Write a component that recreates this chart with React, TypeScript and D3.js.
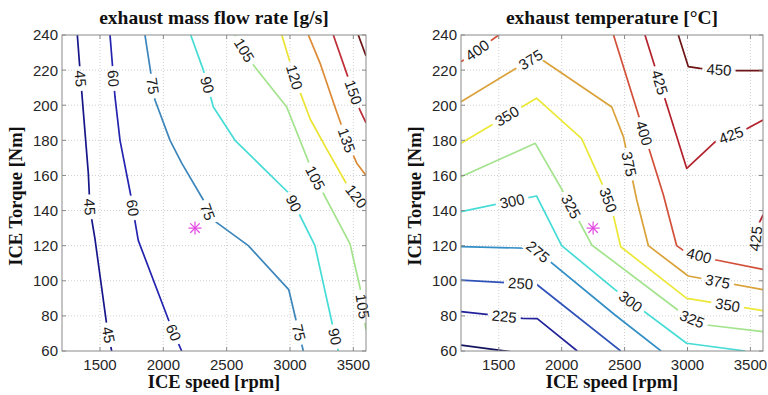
import React from 'react';
import * as d3 from 'd3';

type Pt = [number, number];
type Lbl = [number, number, number];

// axes
const speedDomain = [1200, 3600];
const torqueDomain = [60, 240];
const speedTicks = [1500, 2000, 2500, 3000, 3500];
const torqueTicks = [60, 80, 100, 120, 140, 160, 180, 200, 220, 240];

// operating point marker
const opPoint: Pt = [2250, 130];

// exhaust mass flow rate contours [speed rpm, torque Nm]
const flowLevels = [45, 60, 75, 90, 105, 120, 135, 150, 165];
const flowColors = ['#16168a', '#2323b0', '#3c86bb', '#45dcd6', '#a4e38e', '#ebe332', '#dc8a34', '#be2e38', '#6e1414'];
const flow45: Pt[] = [[1321, 240], [1342, 220], [1408, 161], [1421, 141], [1460, 124], [1553, 75], [1592, 60]];
const flow60: Pt[] = [[1579, 240], [1618, 205], [1658, 180], [1750, 146], [1776, 134], [1802, 123], [2066, 73], [2145, 60]];
const flow75: Pt[] = [[1855, 240], [1934, 203], [2053, 180], [2145, 167], [2316, 146], [2368, 136], [2671, 120], [2990, 95], [3105, 60]];
const flow90: Pt[] = [[2216, 240], [2316, 220], [2395, 199], [2566, 180], [2990, 150], [3197, 120], [3381, 60]];
const flow105: Pt[] = [[2566, 240], [2710, 223], [2974, 199], [3079, 180], [3190, 160], [3276, 148], [3474, 121], [3553, 96], [3600, 72]];
const flow120: Pt[] = [[2935, 240], [3040, 215], [3160, 192], [3290, 175], [3440, 156], [3600, 141]];
const flow135: Pt[] = [[3145, 240], [3237, 224], [3355, 199], [3448, 180], [3527, 167], [3600, 160]];
const flow150: Pt[] = [[3342, 240], [3448, 218], [3553, 197], [3600, 190]];
const flow165: Pt[] = [[3539, 240], [3600, 228]];
const flowLines = [flow45, flow60, flow75, flow90, flow105, flow120, flow135, flow150, flow165];
const flowLabels: Lbl[] = [
  [45, 1316, 215], [45, 1395, 142], [45, 1553, 69],
  [60, 1566, 215], [60, 1711, 141], [60, 2066, 70],
  [75, 1921, 211], [75, 2342, 139], [75, 3040, 70],
  [90, 2316, 211], [90, 3026, 144], [90, 3342, 68],
  [105, 2631, 231], [105, 3184, 158], [105, 3539, 85],
  [120, 3039, 216], [120, 3487, 146],
  [135, 3448, 180],
  [150, 3487, 207],
];

// exhaust temperature contours
const tempLevels = [200, 225, 250, 275, 300, 325, 350, 375, 400, 400, 425, 425, 450];
const tempColors = ['#14145e', '#22229a', '#2f52b8', '#338fc6', '#45dcd6', '#a4e38e', '#ebe838', '#daa23a', '#d2503a', '#d2503a', '#b3222c', '#b3222c', '#6e1414'];
const temp200: Pt[] = [[1200, 63.4], [1650, 59]];
const temp225: Pt[] = [[1200, 82.4], [1690, 78.6], [1806, 78.4], [2124, 60]];
const temp250: Pt[] = [[1200, 100.4], [1800, 98], [2469, 60]];
const temp275: Pt[] = [[1200, 119.4], [1780, 118.5], [2424, 80.5], [2790, 60]];
const temp300: Pt[] = [[1200, 139.4], [1800, 148.3], [2000, 120], [2424, 95], [2993, 64.4], [3460, 60]];
const temp325: Pt[] = [[1200, 159.3], [1790, 178.3], [2026, 149], [2239, 120.4], [2994, 79.5], [3153, 74.8], [3600, 71]];
const temp350: Pt[] = [[1200, 178.3], [1800, 204], [2159, 181], [2331, 153.6], [2402, 140], [2469, 119.4], [2994, 90], [3600, 83]];
const temp375: Pt[] = [[1200, 202], [1800, 228], [2398, 199], [2491, 182], [2597, 146], [2689, 120], [3006, 102.7], [3600, 95]];
const temp400a: Pt[] = [[1200, 224.8], [1500, 240]];
const temp400b: Pt[] = [[2412, 240], [2808, 149], [2914, 120], [2980, 116.6], [3218, 112], [3600, 106.5]];
const temp425a: Pt[] = [[2662, 240], [2994, 164], [3232, 180], [3457, 186], [3600, 191.6]];
const temp425b: Pt[] = [[3600, 137.5], [3550, 130], [3530, 117]];
const temp450: Pt[] = [[2927, 240], [3006, 222], [3099, 221], [3391, 219.7], [3600, 219.7]];
const tempLines = [temp200, temp225, temp250, temp275, temp300, temp325, temp350, temp375, temp400a, temp400b, temp425a, temp425b, temp450];
// temp labels reference a line index
const tempLabels: Lbl[] = [
  [1, 1542, 78.6],
  [2, 1674, 99],
  [3, 1805, 116],
  [4, 1613, 143], [4, 2535, 87],
  [5, 2040, 141], [5, 3030, 77],
  [6, 1576, 192.6], [6, 2336, 145], [6, 3316, 85],
  [7, 1762, 225], [7, 2509, 166], [7, 3237, 98.6],
  [8, 1337, 230.5],
  [9, 2649, 184], [9, 3086, 112.8],
  [10, 2755, 212.5], [10, 3351, 182],
  [11, 3540, 124],
  [12, 3250, 220],
];
// flow labels reference a level value
const flowLabelIdx: Lbl[] = flowLabels.map(([lv, s, t]) => [flowLevels.indexOf(lv), s, t]);

const Y0 = 35;
const Y1 = 351;
const serif = "'Liberation Serif', 'Times New Roman', serif";
const sans = "'Liberation Sans', Arial, sans-serif";

// snap a label onto the nearest segment and take its angle
function placeLabel(pts: Pt[], p: Pt) {
  let best = { d: Infinity, x: 0, y: 0, a: 0 };
  for (let i = 0; i < pts.length - 1; i++) {
    const [ax, ay] = pts[i];
    const [bx, by] = pts[i + 1];
    const dx = bx - ax, dy = by - ay;
    const len2 = dx * dx + dy * dy || 1;
    let t = ((p[0] - ax) * dx + (p[1] - ay) * dy) / len2;
    t = Math.max(0, Math.min(1, t));
    const qx = ax + t * dx, qy = ay + t * dy;
    const d = (qx - p[0]) ** 2 + (qy - p[1]) ** 2;
    if (d < best.d) {
      let a = (Math.atan2(dy, dx) * 180) / Math.PI;
      if (a > 90) a -= 180;
      if (a <= -90) a += 180;
      best = { d, x: qx, y: qy, a };
    }
  }
  return best;
}

function Panel({ id, x0, x1, title, levels, colors, lines, labels }: {
  id: string; x0: number; x1: number; title: string;
  levels: number[]; colors: string[]; lines: Pt[][]; labels: Lbl[];
}) {
  const x = d3.scaleLinear().domain(speedDomain).range([x0, x1]);
  const y = d3.scaleLinear().domain(torqueDomain).range([Y1, Y0]);
  const line = d3.line<Pt>().x(d => x(d[0])).y(d => y(d[1]));
  const cx = (x0 + x1) / 2;

  const placed = labels.map(([idx, s, t]) => {
    const px = lines[idx].map(q => [x(q[0]), y(q[1])] as Pt);
    const pos = placeLabel(px, [x(s), y(t)]);
    const text = String(levels[idx]);
    return { ...pos, text, w: text.length * 8.4 + 8 };
  });

  const ox = x(opPoint[0]);
  const oy = y(opPoint[1]);
  const r = 6.5;

  return (
    <g>
      <defs>
        <clipPath id={`clip-${id}`}>
          <rect x={x0} y={Y0} width={x1 - x0} height={Y1 - Y0} />
        </clipPath>
        <mask id={`mask-${id}`} maskUnits="userSpaceOnUse" x={0} y={0} width={768} height={395}>
          <rect x={0} y={0} width={768} height={395} fill="white" />
          {placed.map((p, i) => (
            <rect key={i} x={-p.w / 2} y={-7} width={p.w} height={14} fill="black"
              transform={`translate(${p.x},${p.y}) rotate(${p.a})`} />
          ))}
        </mask>
      </defs>
      <rect x={x0} y={Y0} width={x1 - x0} height={Y1 - Y0} fill="white" />
      {/* grid */}
      {speedTicks.map(t => (
        <line key={`gx${t}`} x1={x(t)} x2={x(t)} y1={Y0} y2={Y1} stroke="#c4c4c4" strokeWidth={0.8} strokeDasharray="1,2" />
      ))}
      {torqueTicks.slice(1, -1).map(t => (
        <line key={`gy${t}`} x1={x0} x2={x1} y1={y(t)} y2={y(t)} stroke="#c4c4c4" strokeWidth={0.8} strokeDasharray="1,2" />
      ))}
      {/* contours */}
      <g clipPath={`url(#clip-${id})`}>
        <g mask={`url(#mask-${id})`}>
          {lines.map((pts, i) => (
            <path key={i} d={line(pts) || ''} fill="none" stroke={colors[i]} strokeWidth={1.7} strokeLinejoin="round" />
          ))}
        </g>
      </g>
      {placed.map((p, i) => (
        <text key={i} transform={`translate(${p.x},${p.y}) rotate(${p.a})`} textAnchor="middle" dy="0.36em"
          fontFamily={sans} fontSize={15} fill="#1a1a1a">{p.text}</text>
      ))}
      {/* operating point */}
      <g stroke="#e246e2" strokeWidth={1.2}>
        <line x1={ox - r} x2={ox + r} y1={oy} y2={oy} />
        <line x1={ox} x2={ox} y1={oy - r} y2={oy + r} />
        <line x1={ox - r * 0.72} x2={ox + r * 0.72} y1={oy - r * 0.72} y2={oy + r * 0.72} />
        <line x1={ox - r * 0.72} x2={ox + r * 0.72} y1={oy + r * 0.72} y2={oy - r * 0.72} />
      </g>
      {/* box and ticks */}
      <rect x={x0} y={Y0} width={x1 - x0} height={Y1 - Y0} fill="none" stroke="#8a8a8a" strokeWidth={1} />
      {speedTicks.map(t => (
        <g key={`tx${t}`}>
          <line x1={x(t)} x2={x(t)} y1={Y1} y2={Y1 - 4} stroke="#8a8a8a" />
          <line x1={x(t)} x2={x(t)} y1={Y0} y2={Y0 + 4} stroke="#8a8a8a" />
          <text x={x(t)} y={Y1 + 19} textAnchor="middle" fontFamily={sans} fontSize={15} fill="#262626">{t}</text>
        </g>
      ))}
      {torqueTicks.map(t => (
        <g key={`ty${t}`}>
          <line x1={x0} x2={x0 + 4} y1={y(t)} y2={y(t)} stroke="#8a8a8a" />
          <line x1={x1} x2={x1 - 4} y1={y(t)} y2={y(t)} stroke="#8a8a8a" />
          <text x={x0 - 4} y={y(t)} dy="0.36em" textAnchor="end" fontFamily={sans} fontSize={15} fill="#262626">{t}</text>
        </g>
      ))}
      <text x={cx} y={24} textAnchor="middle" fontFamily={serif} fontWeight="bold" fontSize={19.5} fill="#111">{title}</text>
      <text x={cx} y={388} textAnchor="middle" fontFamily={serif} fontWeight="bold" fontSize={18.5} fill="#111">ICE speed [rpm]</text>
      <text transform={`translate(${x0 - 40},${(Y0 + Y1) / 2 + 3}) rotate(-90)`} textAnchor="middle" fontFamily={serif} fontWeight="bold" fontSize={18.5} fill="#111">ICE Torque [Nm]</text>
    </g>
  );
}

export default function App() {
  return (
    <svg width={768} height={395} style={{ position: 'absolute', left: 0, top: 0, background: 'white' }}>
      <rect width={768} height={395} fill="white" />
      <Panel id="flow" x0={62} x1={366} title="exhaust mass flow rate [g/s]"
        levels={flowLevels} colors={flowColors} lines={flowLines} labels={flowLabelIdx} />
      <Panel id="temp" x0={461} x1={763} title="exhaust temperature [°C]"
        levels={tempLevels} colors={tempColors} lines={tempLines} labels={tempLabels} />
    </svg>
  );
}
